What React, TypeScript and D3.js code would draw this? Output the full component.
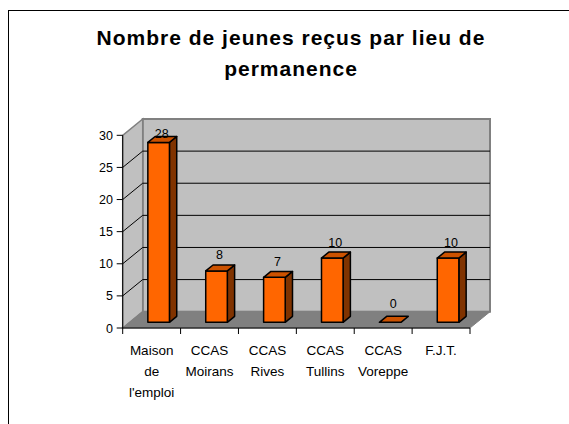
import React from "react";
import * as d3 from "d3";

const categoryLines: string[][] = [
  ["Maison", "de", "l'emploi"],
  ["CCAS", "Moirans"],
  ["CCAS", "Rives"],
  ["CCAS", "Tullins"],
  ["CCAS", "Voreppe"],
  ["F.J.T."],
];
const values: number[] = [28, 8, 7, 10, 0, 10];
const yTicks: number[] = [0, 5, 10, 15, 20, 25, 30];
const titleLines: string[] = ["Nombre de jeunes reçus par lieu de", "permanence"];

const W = 569;
const H = 424;
const X0 = 122.7;
const X1 = 470;
const Y0 = 328;
const Y30 = 135.3;
const DX = 20;
const DY = -16.3;
const F1 = 0.35;
const F2 = 0.715;
const BAR_FRAC = 0.373;
const FONT = "'Liberation Sans', Arial, sans-serif";

export default function App() {
  const ids = categoryLines.map((_, i) => String(i));
  const x = d3.scaleBand<string>().domain(ids).range([X0, X1]).paddingInner(0).paddingOuter(0);
  const y = d3.scaleLinear().domain([0, 30]).range([Y0, Y30]);
  const P = (px: number, v: number, d: number): [number, number] => [px + d * DX, y(v) + d * DY];
  const poly = (pts: [number, number][]) => pts.map((p) => p.join(",")).join(" ");

  const bw = x.bandwidth();
  const barW = bw * BAR_FRAC;
  const vMax = 30;

  const backTL = P(X0, vMax, 1);
  const backBR = P(X1, 0, 1);

  return (
    <svg width={W} height={H} style={{ position: "absolute", left: 0, top: 0, background: "#fff" }} fontFamily={FONT}>
      <rect x={0} y={0} width={W} height={H} fill="#fff" />
      {/* outer frame */}
      <rect x={8.5} y={10.5} width={W + 10} height={H + 10} fill="none" stroke="#000" strokeWidth={1} />

      {/* title */}
      {titleLines.map((t, i) => (
        <text
          key={i}
          x={291}
          y={45 + i * 31}
          textAnchor="middle"
          fontSize={21}
          fontWeight="bold"
          letterSpacing={1}
          fill="#000"
        >
          {t}
        </text>
      ))}

      {/* back wall */}
      <rect
        x={backTL[0]}
        y={backTL[1]}
        width={backBR[0] - backTL[0]}
        height={backBR[1] - backTL[1]}
        fill="#c0c0c0"
        stroke="#808080"
        strokeWidth={2}
      />
      {/* left wall */}
      <polygon
        points={poly([P(X0, 0, 0), P(X0, vMax, 0), P(X0, vMax, 1), P(X0, 0, 1)])}
        fill="#c0c0c0"
        stroke="#808080"
        strokeWidth={1.5}
      />
      {/* floor */}
      <polygon
        points={poly([P(X0, 0, 0), P(X1, 0, 0), P(X1, 0, 1), P(X0, 0, 1)])}
        fill="#808080"
        stroke="#808080"
        strokeWidth={1}
      />
      {/* gridlines on back wall and left wall */}
      {yTicks
        .filter((v) => v > 0 && v < vMax)
        .map((v) => {
          const a = P(X0, v, 1);
          const b = P(X1, v, 1);
          const c = P(X0, v, 0);
          return (
            <g key={v}>
              <line x1={a[0]} y1={a[1]} x2={b[0]} y2={b[1]} stroke="#000" strokeWidth={1} />
              <line x1={c[0]} y1={c[1]} x2={a[0]} y2={a[1]} stroke="#000" strokeWidth={1} />
            </g>
          );
        })}

      {/* y axis */}
      <line x1={X0} y1={y(0)} x2={X0} y2={y(vMax)} stroke="#000" strokeWidth={1} />
      {yTicks.map((v) => (
        <g key={v}>
          <line x1={X0 - 6} y1={y(v)} x2={X0} y2={y(v)} stroke="#000" strokeWidth={1} />
          <text x={113} y={y(v) + 4.5} textAnchor="end" fontSize={12.5} fill="#000">
            {v}
          </text>
        </g>
      ))}

      {/* x axis */}
      <line x1={X0} y1={Y0} x2={X1} y2={Y0} stroke="#000" strokeWidth={1} />
      {ids.concat(["end"]).map((id, i) => {
        const px = i < ids.length ? (x(id) as number) : X1;
        return <line key={id} x1={px} y1={Y0} x2={px} y2={Y0 + 6} stroke="#000" strokeWidth={1} />;
      })}

      {/* bars */}
      {values.map((v, i) => {
        const xl = (x(ids[i]) as number) + (bw - barW) / 2;
        const xr = xl + barW;
        const front = [P(xl, 0, F1), P(xr, 0, F1), P(xr, v, F1), P(xl, v, F1)] as [number, number][];
        const top = [P(xl, v, F1), P(xr, v, F1), P(xr, v, F2), P(xl, v, F2)] as [number, number][];
        const side = [P(xr, 0, F1), P(xr, 0, F2), P(xr, v, F2), P(xr, v, F1)] as [number, number][];
        const frontTop = P(xl, v, F1)[1];
        const lx = (xl + xr) / 2 + F1 * DX + 3;
        const ly = Math.max(frontTop - 11.5, 138);
        return (
          <g key={i}>
            {v > 0 && <polygon points={poly(side)} fill="#803300" stroke="#000" strokeWidth={1.5} strokeLinejoin="round" />}
            {v > 0 && <polygon points={poly(front)} fill="#ff6600" stroke="#000" strokeWidth={1.5} strokeLinejoin="round" />}
            <polygon points={poly(top)} fill="#cc5200" stroke="#000" strokeWidth={1.5} strokeLinejoin="round" />
            <text x={lx} y={v === 0 ? ly - 3 : ly} textAnchor="middle" fontSize={12.5} fill="#000">
              {v}
            </text>
          </g>
        );
      })}

      {/* category labels */}
      {categoryLines.map((lines, i) => (
        <text key={i} textAnchor="middle" fontSize={13.5} fill="#000">
          {lines.map((l, j) => (
            <tspan key={j} x={(x(ids[i]) as number) + bw / 2} y={354.5 + j * 21}>
              {l}
            </tspan>
          ))}
        </text>
      ))}
    </svg>
  );
}
